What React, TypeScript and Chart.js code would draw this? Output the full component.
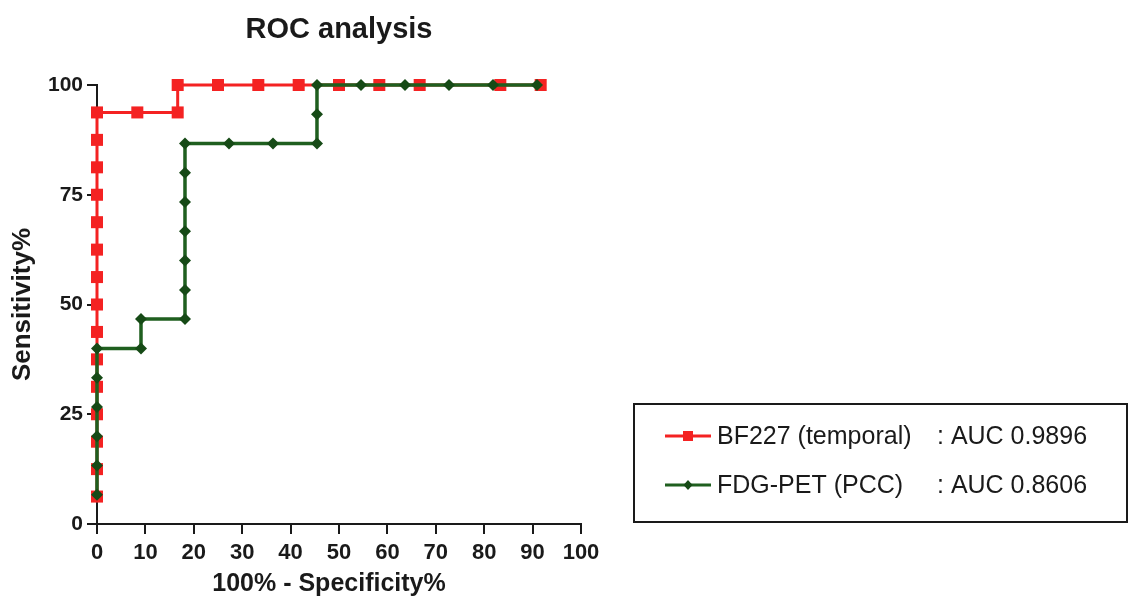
import React, { useEffect, useRef } from "react";
import { Chart, registerables } from "chart.js";

Chart.register(...registerables);

const chartTitle = "ROC analysis";
const xAxisTitle = "100% - Specificity%";
const yAxisTitle = "Sensitivity%";
const xTickValues = [0, 10, 20, 30, 40, 50, 60, 70, 80, 90, 100];
const yTickValues = [0, 25, 50, 75, 100];

const seriesNames = ["BF227 (temporal)", "FDG-PET (PCC)"];
const aucLabels = [": AUC 0.9896", ": AUC 0.8606"];

// BF227 (temporal): 100% - Specificity% (x) and Sensitivity% (y)
const bf227X = [
  0, 0, 0, 0, 0, 0, 0, 0, 0, 0, 0, 0, 0, 0, 0,
  8.33, 16.67, 16.67, 25, 33.33, 41.67, 50, 58.33, 66.67, 83.33, 91.67,
];
const bf227Y = [
  6.25, 12.5, 18.75, 25, 31.25, 37.5, 43.75, 50, 56.25, 62.5, 68.75, 75, 81.25, 87.5, 93.75,
  93.75, 93.75, 100, 100, 100, 100, 100, 100, 100, 100, 100,
];

// FDG-PET (PCC)
const fdgX = [
  0, 0, 0, 0, 0, 0,
  9.09, 9.09, 18.18, 18.18, 18.18, 18.18, 18.18, 18.18, 18.18,
  27.27, 36.36, 45.45, 45.45, 45.45, 54.55, 63.64, 72.73, 81.82, 90.91,
];
const fdgY = [
  6.67, 13.33, 20, 26.67, 33.33, 40,
  40, 46.67, 46.67, 53.33, 60, 66.67, 73.33, 80, 86.67,
  86.67, 86.67, 86.67, 93.33, 100, 100, 100, 100, 100, 100,
];

const RED = "#f42222";
const GREEN = "#1f5f1f";
const GREEN_MARK = "#164a16";
const INK = "#1a1a1a";
const FONT = '"Liberation Sans", Arial, Helvetica, sans-serif';

const toPoints = (xs: number[], ys: number[]) => xs.map((x, i) => ({ x, y: ys[i] }));

const overlayPlugin = {
  id: "overlayTexts",
  afterDraw(chart: any) {
    const ctx: CanvasRenderingContext2D = chart.ctx;
    const area = chart.chartArea;
    ctx.save();
    // Title
    ctx.fillStyle = INK;
    ctx.font = `bold 29px ${FONT}`;
    ctx.textAlign = "center";
    ctx.textBaseline = "middle";
    ctx.fillText(chartTitle, (area.left + area.right) / 2, 30);

    // X axis title
    ctx.font = `bold 25px ${FONT}`;
    ctx.fillText(xAxisTitle, (area.left + area.right) / 2 - 10, 584);

    // Legend box
    const bx = 634, by = 404, bw = 493, bh = 118;
    ctx.strokeStyle = INK;
    ctx.lineWidth = 2;
    ctx.strokeRect(bx, by, bw, bh);

    const rows = [436, 485];
    const colors = [RED, GREEN];
    const markColors = [RED, GREEN_MARK];
    rows.forEach((ry, i) => {
      ctx.strokeStyle = colors[i];
      ctx.lineWidth = 3;
      ctx.beginPath();
      ctx.moveTo(665, ry);
      ctx.lineTo(711, ry);
      ctx.stroke();
      ctx.fillStyle = markColors[i];
      const cx = 688;
      if (i === 0) {
        ctx.fillRect(cx - 5, ry - 5, 10, 10);
      } else {
        ctx.beginPath();
        ctx.moveTo(cx, ry - 5);
        ctx.lineTo(cx + 4.5, ry);
        ctx.lineTo(cx, ry + 5);
        ctx.lineTo(cx - 4.5, ry);
        ctx.closePath();
        ctx.fill();
      }
      ctx.fillStyle = INK;
      ctx.font = `25px ${FONT}`;
      ctx.textAlign = "left";
      ctx.textBaseline = "middle";
      ctx.fillText(seriesNames[i], 717, ry + 1);
      ctx.fillText(aucLabels[i], 937, ry + 1);
    });
    ctx.restore();
  },
};

export default function App() {
  const canvasRef = useRef<HTMLCanvasElement | null>(null);

  useEffect(() => {
    if (!canvasRef.current) return;
    const chart = new Chart(canvasRef.current, {
      type: "line",
      data: {
        datasets: [
          {
            label: seriesNames[1],
            data: toPoints(fdgX, fdgY),
            borderColor: GREEN,
            backgroundColor: GREEN_MARK,
            pointBorderColor: GREEN_MARK,
            pointBackgroundColor: GREEN_MARK,
            borderWidth: 3.5,
            pointStyle: "rectRot",
            pointRadius: 6,
            pointBorderWidth: 0,
            clip: false,
            tension: 0,
          },
          {
            label: seriesNames[0],
            data: toPoints(bf227X, bf227Y),
            borderColor: RED,
            backgroundColor: RED,
            pointBorderColor: RED,
            pointBackgroundColor: RED,
            borderWidth: 3,
            pointStyle: "rect",
            pointRadius: 8.5,
            pointBorderWidth: 0,
            clip: false,
            tension: 0,
          },
        ],
      },
      options: {
        animation: false,
        responsive: true,
        maintainAspectRatio: false,
        layout: { padding: { left: 0, right: 548, top: 85, bottom: 0 } },
        plugins: {
          legend: { display: false },
          title: { display: false },
          tooltip: { enabled: false },
        },
        scales: {
          x: {
            type: "linear",
            min: 0,
            max: 100,
            z: 1,
            afterBuildTicks: (scale: any) => {
              scale.ticks = xTickValues.map((v) => ({ value: v }));
            },
            afterFit: (scale: any) => {
              scale.height = 76;
            },
            grid: {
              display: true,
              drawOnChartArea: false,
              drawTicks: true,
              tickLength: 10,
              lineWidth: 2,
              color: INK,
            },
            border: { display: true, color: INK, width: 2 },
            ticks: {
              color: INK,
              padding: 6,
              maxRotation: 0,
              autoSkip: false,
              font: { family: FONT, size: 22, weight: "bold" },
            },
            title: { display: false },
          },
          y: {
            type: "linear",
            min: 0,
            max: 100,
            z: 1,
            afterBuildTicks: (scale: any) => {
              scale.ticks = yTickValues.map((v) => ({ value: v }));
            },
            afterFit: (scale: any) => {
              scale.width = 97;
            },
            grid: {
              display: true,
              drawOnChartArea: false,
              drawTicks: true,
              tickLength: 10,
              lineWidth: 2,
              color: INK,
            },
            border: { display: true, color: INK, width: 2 },
            ticks: {
              color: INK,
              padding: 4,
              autoSkip: false,
              font: { family: FONT, size: 21, weight: "bold" },
            },
            title: {
              display: true,
              text: yAxisTitle,
              color: INK,
              font: { family: FONT, size: 26, weight: "bold" },
              padding: { top: 7, bottom: 0 },
            },
          },
        },
      },
      plugins: [overlayPlugin],
    } as any);
    return () => chart.destroy();
  }, []);

  return (
    <div style={{ position: "fixed", left: 0, top: 0, width: 1129, height: 600, background: "#fff" }}>
      <canvas ref={canvasRef} />
    </div>
  );
}
